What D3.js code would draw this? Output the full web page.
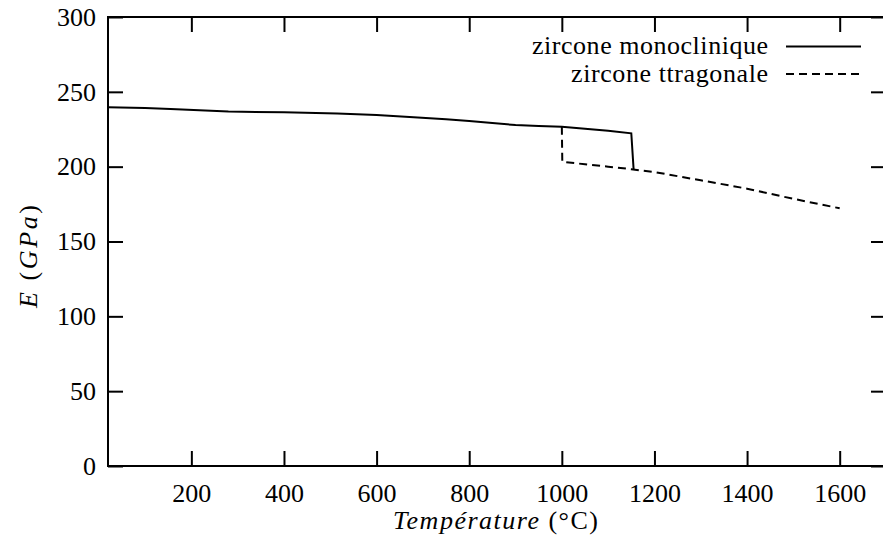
<!DOCTYPE html>
<html><head><meta charset="utf-8">
<script src="https://cdn.jsdelivr.net/npm/d3@7"></script>
<style>
body{margin:0;background:#fff}
svg{display:block}
</style>
</head><body>
<svg id="c" width="883" height="550"></svg>
<script>
const monoT = [20, 100, 155, 280, 400, 515, 600, 680, 750, 800, 850, 900, 950, 1000, 1050, 1100, 1150, 1155];
const monoE = [239.7, 239.2, 238.5, 236.8, 236.3, 235.6, 234.5, 233.1, 231.6, 230.5, 229.1, 227.8, 227.2, 226.7, 225.3, 224.0, 222.3, 198.2];
const tetraT = [1000, 1001, 1050, 1100, 1150, 1200, 1300, 1400, 1500, 1600];
const tetraE = [226.7, 203.3, 201.6, 200.0, 198.3, 196.4, 190.9, 185.3, 178.5, 172.2];
const xTicks = [200, 400, 600, 800, 1000, 1200, 1400, 1600];
const yTicks = [0, 50, 100, 150, 200, 250, 300];
const seriesNames = ["zircone monoclinique", "zircone ttragonale"];

const svg = d3.select("#c");
const L = 108, R = 886, T = 17, B = 466;
const x = d3.scaleLinear().domain([20, 1700]).range([L, R]);
const y = d3.scaleLinear().domain([0, 300]).range([B, T]);
const FAM = "Liberation Serif";

function serif(sel, size){
  sel.attr("font-family", FAM).attr("font-size", size);
  return sel;
}

function styleAxis(g){
  g.attr("font-family", FAM).attr("font-size", 26);
  g.select(".domain").remove();
  g.selectAll(".tick line").attr("stroke", "#000").attr("stroke-width", 2);
  g.selectAll(".tick text").attr("fill", "#000").call(serif, 26);
}
svg.append("g").attr("transform", `translate(0,${B})`)
  .call(d3.axisBottom(x).tickValues(xTicks).tickSizeInner(-15).tickSizeOuter(0).tickPadding(18).tickFormat(d3.format("d")))
  .call(styleAxis);
svg.append("g").attr("transform", `translate(0,${T})`)
  .call(d3.axisTop(x).tickValues(xTicks).tickSizeInner(-15).tickSizeOuter(0).tickFormat(""))
  .call(styleAxis);
svg.append("g").attr("transform", `translate(${L},0)`)
  .call(d3.axisLeft(y).tickValues(yTicks).tickSizeInner(-15).tickSizeOuter(0).tickPadding(12).tickFormat(d3.format("d")))
  .call(styleAxis);
svg.append("g").attr("transform", `translate(${R},0)`)
  .call(d3.axisRight(y).tickValues(yTicks).tickSizeInner(-15).tickSizeOuter(0).tickFormat(""))
  .call(styleAxis);

svg.append("rect").attr("x", L).attr("y", T).attr("width", R - L).attr("height", B - T)
  .attr("fill", "none").attr("stroke", "#000").attr("stroke-width", 2);

const line = d3.line().x(d => x(d[0])).y(d => y(d[1]));
const mono = monoT.map((t, i) => [t, monoE[i]]);
const tetra = tetraT.map((t, i) => [t, tetraE[i]]);
svg.append("path").attr("d", line(tetra)).attr("fill", "none").attr("stroke", "#000")
  .attr("stroke-width", 2).attr("stroke-dasharray", "8,5");
svg.append("path").attr("d", line(mono)).attr("fill", "none").attr("stroke", "#000")
  .attr("stroke-width", 2);

// legend
const leg = svg.append("g");
const rows = [{name: seriesNames[0], dash: null, y: 46.5, len: 236}, {name: seriesNames[1], dash: "8,5", y: 74, len: 197}];
rows.forEach(r => {
  leg.append("text").attr("x", 768 - r.len).attr("y", r.y).attr("dy", "0.3em")
    .attr("textLength", r.len).attr("lengthAdjust", "spacing")
    .attr("fill", "#000").call(serif, 26).text(r.name);
  leg.append("line").attr("x1", 786).attr("x2", 861).attr("y1", r.y).attr("y2", r.y)
    .attr("stroke", "#000").attr("stroke-width", 2).attr("stroke-dasharray", r.dash);
});

// axis labels
const xl = svg.append("text").attr("x", 393).attr("y", 529)
  .attr("textLength", 205).attr("lengthAdjust", "spacing")
  .attr("fill", "#000").call(serif, 26);
xl.append("tspan").attr("font-style", "italic").text("Température");
xl.append("tspan").text(" (°C)");

const yl = svg.append("text").attr("transform", "translate(37,308) rotate(-90)")
  .attr("textLength", 103).attr("lengthAdjust", "spacing")
  .attr("fill", "#000").call(serif, 26);
yl.append("tspan").attr("font-style", "italic").text("E");
yl.append("tspan").text(" (");
yl.append("tspan").attr("font-style", "italic").text("GPa");
yl.append("tspan").text(")");
</script>
</body></html>
